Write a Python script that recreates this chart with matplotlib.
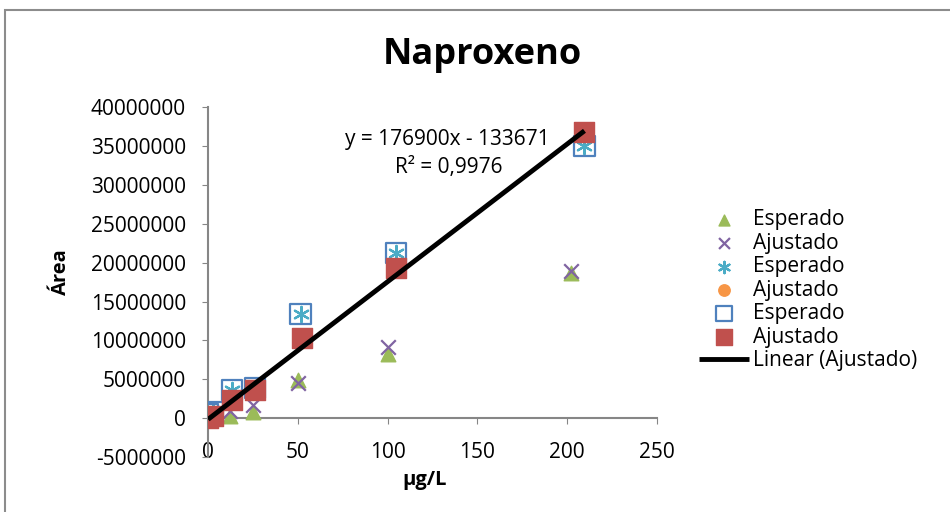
import matplotlib.pyplot as plt
from matplotlib.patches import Rectangle

# concentration (ug/L) and peak areas
x_esp1 = [0, 2.5, 12.5, 25, 50, 100, 202]
y_esp1 = [0, 100000, 300000, 800000, 4900000, 8300000, 18700000]      # green triangle
x_aju1 = [0, 2.5, 12.5, 25, 50, 100, 202]
y_aju1 = [0, 300000, 1000000, 1700000, 4500000, 9100000, 18900000]   # purple x

x_esp2 = [0, 2.6, 13.1, 26.2, 51.5, 104.8, 209.6]
y_esp2 = [500000, 800000, 3600000, 3900000, 13400000, 21200000, 35000000]  # asterisk / open square
x_aju2 = [0, 2.6, 13.1, 26.2, 52.4, 104.8, 209.6]
y_aju2 = [0, 300000, 2300000, 3600000, 10300000, 19300000, 36800000]  # circle / filled square

slope = 176900
intercept = -133671
r2 = "0,9976"

xticks = [0, 50, 100, 150, 200, 250]
yticks = [-5000000, 0, 5000000, 10000000, 15000000, 20000000,
          25000000, 30000000, 35000000, 40000000]

plt.rcParams['font.family'] = ['Open Sans', 'DejaVu Sans']

fig = plt.figure(figsize=(9.5, 5.12), dpi=100)
ax = fig.add_axes([0.219, 0.107, 0.4726, 0.684])

# outer chart border (cropped at right and bottom)
fig.patches.append(Rectangle((5 / 950, -0.2), 1.2, 1.2 - 10 / 512,
                             transform=fig.transFigure, fill=False,
                             edgecolor='#8c8c8c', lw=1.5))

ax.scatter(x_esp1, y_esp1, marker='^', s=110, color='#9BBB59', label='Esperado', zorder=3)
ax.scatter(x_aju1, y_aju1, marker='x', s=110, color='#8064A2', linewidths=1.6, label='Ajustado', zorder=3)
ax.scatter(x_esp2, y_esp2, marker=(6, 2, 0), s=120, color='#4BACC6', linewidths=1.6, label='Esperado', zorder=3)
ax.scatter(x_aju2, y_aju2, marker='o', s=120, color='#F79646', label='Ajustado', zorder=3)
ax.scatter(x_esp2, y_esp2, marker='s', s=210, facecolors='none', edgecolors='#4F81BD', linewidths=1.6, label='Esperado', zorder=3)
ax.scatter(x_aju2, y_aju2, marker='s', s=210, color='#C0504D', label='Ajustado', zorder=3)

xl = [0, max(x_aju2)]
ax.plot(xl, [slope * v + intercept for v in xl], color='black', lw=3.5,
        label='Linear (Ajustado)', zorder=4, solid_capstyle='butt')

ax.set_xlim(0, 250)
ax.set_ylim(-5000000, 40000000)
ax.set_xticks(xticks)
ax.set_yticks(yticks)
ax.set_yticklabels([str(v) for v in yticks])

for s in ['top', 'right']:
    ax.spines[s].set_visible(False)
ax.spines['bottom'].set_position(('data', 0))
ax.spines['left'].set_color('#868686')
ax.spines['bottom'].set_color('#868686')
ax.spines['left'].set_linewidth(1.5)
ax.spines['bottom'].set_linewidth(1.5)
ax.tick_params(axis='y', length=4, color='#868686', labelsize=15, pad=12)
ax.tick_params(axis='x', length=4, color='#868686', labelsize=15, pad=13)
ax.patch.set_visible(False)

fig.text(0.508, 0.893, 'Naproxeno', ha='center', va='center', fontsize=26, fontweight='bold')
fig.text(0.064, 0.47, 'Área', ha='center', va='center', rotation=90, fontsize=14.5, fontweight='bold')
fig.text(0.447, 0.062, 'µg/L', ha='center', va='center', fontsize=14.5, fontweight='bold')

fig.text(0.471, 0.727, 'y = 176900x - 133671', ha='center', va='center', fontsize=15)
fig.text(0.472, 0.672, 'R² = ' + r2, ha='center', va='center', fontsize=15)

ax.legend(loc='upper left', bbox_to_anchor=(0.727, 0.608), bbox_transform=fig.transFigure,
          frameon=False, fontsize=15, markerscale=0.75, handlelength=2.4,
          handletextpad=0.2, labelspacing=0.12, borderaxespad=0)

fig.savefig('out.png', dpi=100)
